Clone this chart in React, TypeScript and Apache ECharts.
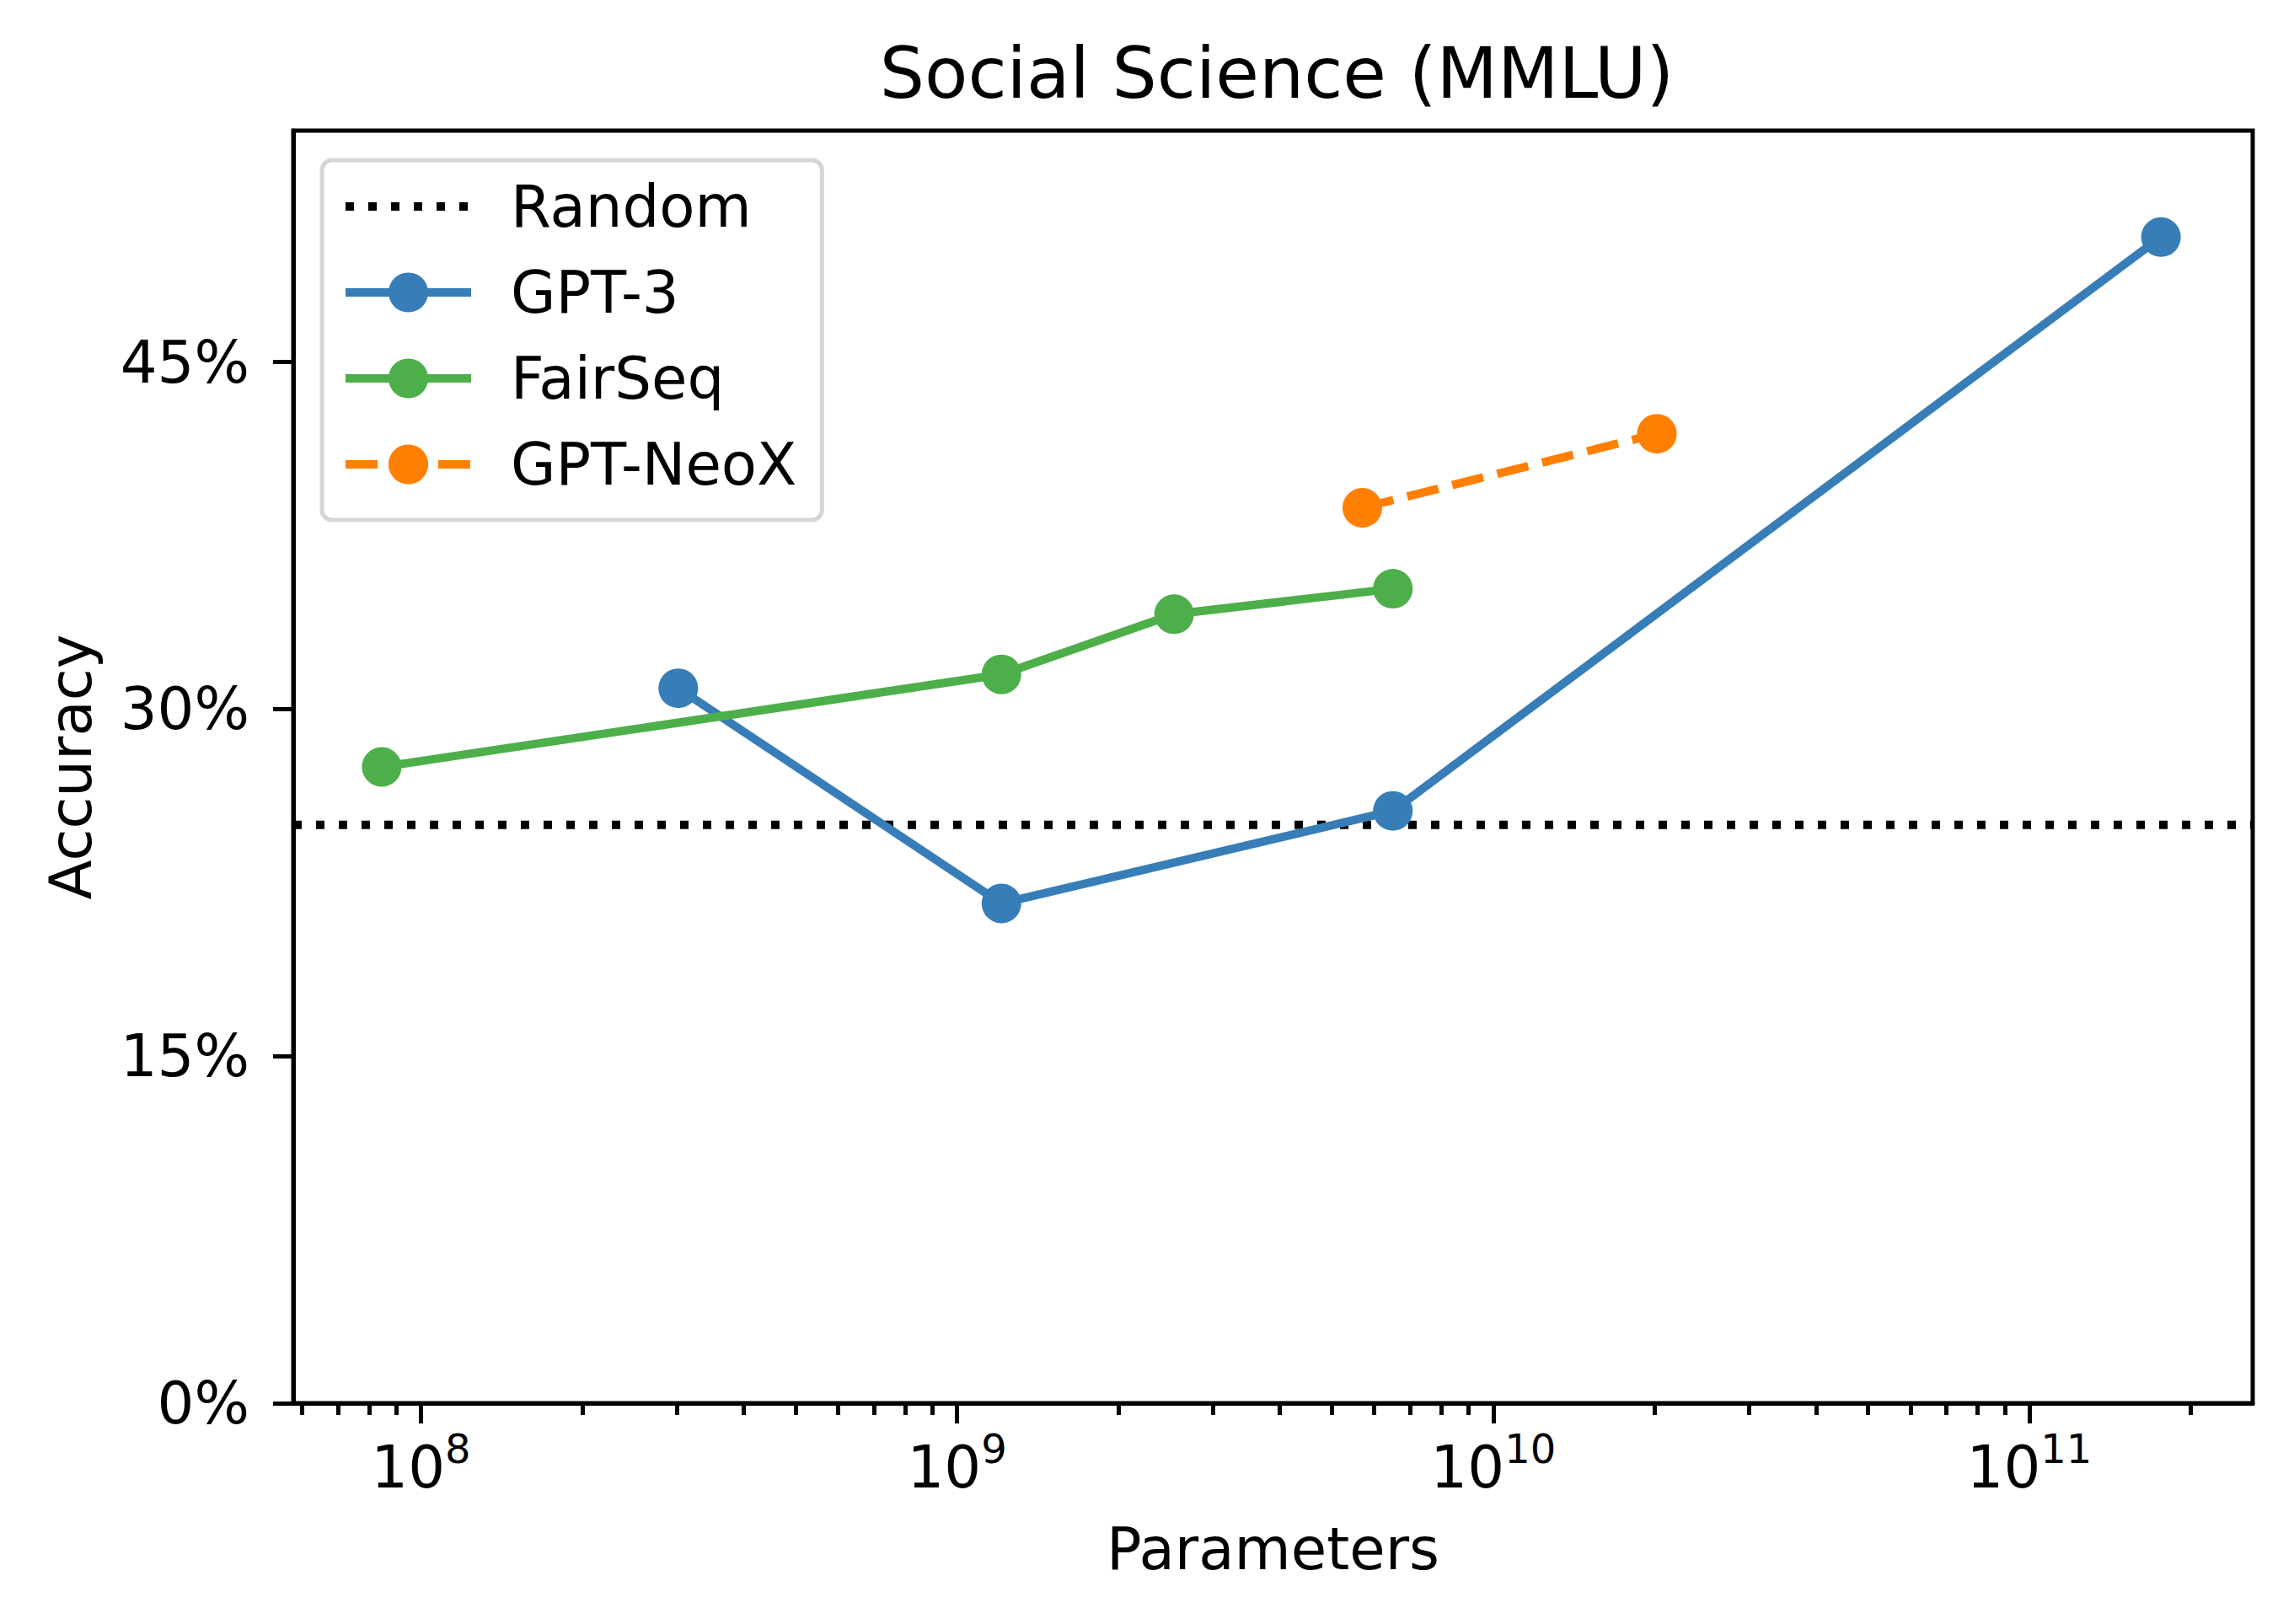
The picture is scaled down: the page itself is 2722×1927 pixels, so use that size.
import React, { useEffect, useRef } from "react";
import * as echarts from "echarts";

// ---- data ----
const gpt3Params = [3.02e8, 1.21e9, 6.5e9, 1.76e11];
const gpt3Acc = [30.9, 21.6, 25.6, 50.4];

const fairseqParams = [8.45e7, 1.21e9, 2.54e9, 6.5e9];
const fairseqAcc = [27.5, 31.5, 34.1, 35.2];

const neoxParams = [5.7e9, 2.02e10];
const neoxAcc = [38.7, 41.9];

const randomAcc = 25;

const xRange = [5.78e7, 2.61e11];
const yMin = 0;
const yMax = 55;
const yTicks = [0, 15, 30, 45];

const majorTickExponents = [8, 9, 10, 11];
const minorMultipliers = [2, 3, 4, 5, 6, 7, 8, 9];
const decades = [7, 8, 9, 10, 11];

const title = "Social Science (MMLU)";
const xName = "Parameters";
const yName = "Accuracy";

const FONT = "DejaVu Sans";
const BLUE = "#377eb8";
const GREEN = "#4daf4a";
const ORANGE = "#ff7f00";

const lg = (v: number) => Math.log10(v);

export default function App() {
  const ref = useRef<HTMLDivElement>(null);

  useEffect(() => {
    if (!ref.current) return;
    const chart = echarts.init(ref.current, undefined, { renderer: "svg" });

    const xMin = lg(xRange[0]);
    const xMax = lg(xRange[1]);

    const minorTicks: number[] = [];
    decades.forEach((d) => {
      minorMultipliers.forEach((m) => {
        const v = lg(m * Math.pow(10, d));
        if (v > xMin && v < xMax) minorTicks.push(v);
      });
    });

    const pts = (xs: number[], ys: number[]) => xs.map((x, i) => [lg(x), ys[i]]);

    const lineW = 10;
    const symSize = 47;

    const option: any = {
      animation: false,
      backgroundColor: "#ffffff",
      textStyle: { fontFamily: FONT },
      title: {
        text: title,
        left: 1510,
        textAlign: "center",
        top: 40,
        textStyle: { fontFamily: FONT, fontSize: 84, fontWeight: "normal", color: "#000" },
      },
      grid: {
        left: 348,
        right: 49,
        top: 155,
        bottom: 262,
        show: true,
        borderColor: "#000",
        borderWidth: 5,
        backgroundColor: "transparent",
      },
      legend: {
        orient: "vertical",
        left: 382,
        top: 190,
        padding: [15, 30, 26, 23],
        itemGap: 22,
        itemWidth: 149,
        itemHeight: 59,
        backgroundColor: "rgba(255,255,255,0.8)",
        borderColor: "#d5d5d5",
        borderWidth: 5,
        borderRadius: 12,
        lineStyle: { width: lineW },
        textStyle: {
          fontFamily: FONT,
          fontSize: 69,
          color: "#000",
          lineHeight: 80,
          padding: [0, 0, 0, 42],
        },
        data: ["Random", "GPT-3", "FairSeq", "GPT-NeoX"],
      },
      xAxis: [
        {
          type: "value",
          min: xMin,
          max: xMax,
          position: "bottom",
          splitLine: { show: false },
          axisLine: { show: true, lineStyle: { color: "#000", width: 5 } },
          axisTick: {
            show: true,
            customValues: majorTickExponents,
            length: 24,
            lineStyle: { color: "#000", width: 5 },
          },
          axisLabel: {
            show: true,
            customValues: majorTickExponents,
            margin: 30,
            formatter: (v: number) => `{b|10}{s|${Math.round(v)}}`,
            rich: {
              b: { fontFamily: FONT, fontSize: 69, color: "#000", verticalAlign: "bottom", lineHeight: 80 },
              s: { fontFamily: FONT, fontSize: 48, color: "#000", verticalAlign: "top", lineHeight: 56 },
            },
          },
          name: xName,
          nameLocation: "middle",
          nameGap: 138,
          nameTextStyle: { fontFamily: FONT, fontSize: 69, color: "#000" },
        },
        {
          type: "value",
          min: xMin,
          max: xMax,
          position: "bottom",
          gridIndex: 0,
          splitLine: { show: false },
          axisLine: { show: false },
          axisTick: {
            show: true,
            customValues: minorTicks,
            length: 14,
            lineStyle: { color: "#000", width: 5 },
          },
          axisLabel: { show: false },
        },
      ],
      yAxis: {
        type: "value",
        min: yMin,
        max: yMax,
        splitLine: { show: false },
        axisLine: { show: true, lineStyle: { color: "#000", width: 5 } },
        axisTick: {
          show: true,
          customValues: yTicks,
          length: 24,
          lineStyle: { color: "#000", width: 5 },
        },
        axisLabel: {
          customValues: yTicks,
          margin: 52,
          fontFamily: FONT,
          fontSize: 69,
          color: "#000",
          formatter: (v: number) => `${v}%`,
        },
        name: yName,
        nameLocation: "middle",
        nameGap: 230,
        nameTextStyle: { fontFamily: FONT, fontSize: 69, color: "#000" },
      },
      series: [
        {
          name: "Random",
          type: "line",
          xAxisIndex: 0,
          data: [
            [xMin, randomAcc],
            [xMax, randomAcc],
          ],
          showSymbol: false,
          symbol: "circle",
          itemStyle: { color: "#000", opacity: 0 },
          lineStyle: { color: "#000", width: lineW, type: [10, 17], cap: "butt" },
          z: 2,
        },
        {
          name: "GPT-3",
          type: "line",
          xAxisIndex: 0,
          data: pts(gpt3Params, gpt3Acc),
          symbol: "circle",
          symbolSize: symSize,
          itemStyle: { color: BLUE },
          lineStyle: { color: BLUE, width: lineW },
          z: 3,
        },
        {
          name: "FairSeq",
          type: "line",
          xAxisIndex: 0,
          data: pts(fairseqParams, fairseqAcc),
          symbol: "circle",
          symbolSize: symSize,
          itemStyle: { color: GREEN },
          lineStyle: { color: GREEN, width: lineW },
          z: 4,
        },
        {
          name: "GPT-NeoX",
          type: "line",
          xAxisIndex: 0,
          data: pts(neoxParams, neoxAcc),
          symbol: "circle",
          symbolSize: symSize,
          itemStyle: { color: ORANGE },
          lineStyle: { color: ORANGE, width: lineW, type: [38, 17], cap: "butt" },
          z: 5,
        },
      ],
    };

    chart.setOption(option);
    return () => chart.dispose();
  }, []);

  return (
    <div
      ref={ref}
      style={{ position: "fixed", left: 0, top: 0, width: 2722, height: 1927, background: "#fff" }}
    />
  );
}
